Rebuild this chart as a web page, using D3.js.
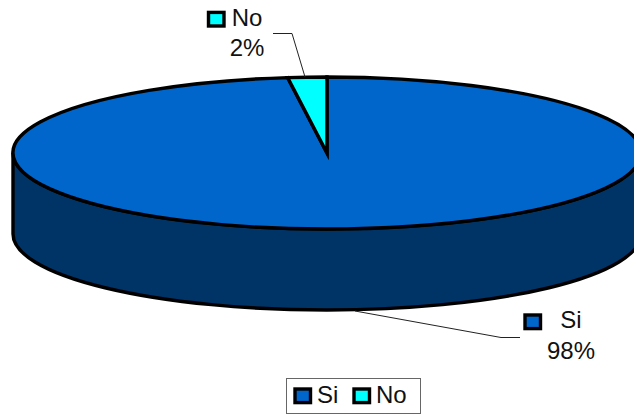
<!DOCTYPE html>
<html>
<head>
<meta charset="utf-8">
<script src="https://cdn.jsdelivr.net/npm/d3@7"></script>
<style>
html,body{margin:0;padding:0;background:#fff;overflow:hidden}
text{font-family:"Liberation Sans",Arial,sans-serif;fill:#111}
</style>
</head>
<body>
<svg id="chart" width="634" height="415"></svg>
<script>
// Survey answers
const categories = ["Si", "No"];
const percentages = [98, 2];
const sliceColors = ["#0066cc", "#00ffff"];
const sideColor = "#003366";

const svg = d3.select("#chart");
const cx = 327, cy = 153, rx = 314, ry = 76, depth = 81, outline = 3.4;
const fontSize = 24;
const color = d3.scaleOrdinal(categories, sliceColors);

// Slices run clockwise so that "No" finishes at twelve o'clock
const pie = d3.pie().sort(null)
  .startAngle(0)
  .endAngle(2 * Math.PI);
const slices = pie(percentages).map((s, i) => ({...s, category: categories[i]}));

// Side wall of the cylinder
const sidePath = `M${cx - rx},${cy} L${cx - rx},${cy + depth}
  A${rx},${ry} 0 0 0 ${cx + rx},${cy + depth}
  L${cx + rx},${cy} A${rx},${ry} 0 0 1 ${cx - rx},${cy} Z`;
svg.append("path").attr("d", sidePath)
  .attr("fill", sideColor).attr("stroke", "#000").attr("stroke-width", outline);

// Top face: a circular pie flattened into an ellipse
const arc = d3.arc().innerRadius(0).outerRadius(rx);
svg.append("g")
  .attr("transform", `translate(${cx},${cy}) scale(1,${ry / rx})`)
  .selectAll("path").data(slices).join("path")
  .attr("d", arc)
  .attr("fill", d => color(d.category))
  .attr("stroke", "#000")
  .attr("stroke-width", outline)
  .attr("stroke-linejoin", "miter")
  .attr("stroke-miterlimit", 20)
  .attr("vector-effect", "non-scaling-stroke");

// Leader lines from the pie to its data labels
const line = d3.line();
const leaders = [
  [[273, 33.5], [292, 33.5], [305, 77]],
  [[355, 311], [501, 337.5], [520, 337.5]]
];
svg.selectAll("path.leader").data(leaders).join("path")
  .attr("class", "leader")
  .attr("d", line).attr("fill", "none")
  .attr("stroke", "#222").attr("stroke-width", 1);

function swatch(x, y, fill) {
  svg.append("rect").attr("x", x).attr("y", y).attr("width", 15.5).attr("height", 13.6)
    .attr("fill", fill).attr("stroke", "#000").attr("stroke-width", 3.4);
}
function label(x, y, str, anchor) {
  svg.append("text").attr("x", x).attr("y", y).attr("text-anchor", anchor || "middle")
    .attr("font-size", fontSize).text(str);
}

// Data labels
swatch(208.5, 12.4, color("No"));
label(247, 26, categories[1]);
label(247, 56, `${percentages[1]}%`);

swatch(525, 315, color("Si"));
label(571, 328, categories[0]);
label(571, 359, `${percentages[0]}%`);

// Legend
svg.append("rect").attr("x", 286.5).attr("y", 378.5).attr("width", 134).attr("height", 35)
  .attr("fill", "#fff").attr("stroke", "#666").attr("stroke-width", 1);
swatch(295, 389, color("Si"));
label(317, 403, categories[0], "start");
swatch(354, 389, color("No"));
label(376, 403, categories[1], "start");
</script>
</body>
</html>
